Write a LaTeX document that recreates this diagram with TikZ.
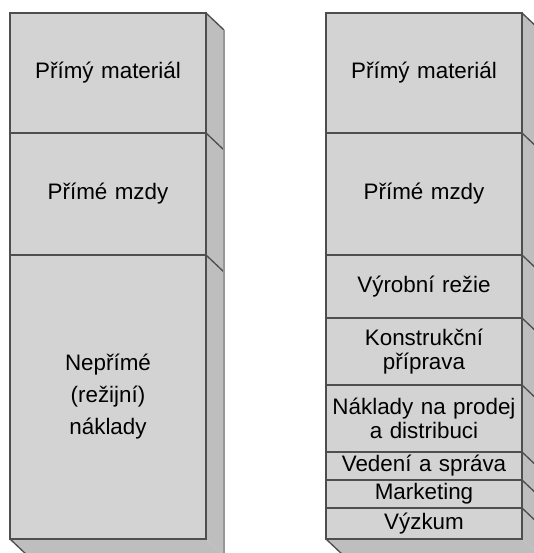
\documentclass[tikz,border=0pt]{standalone}
\usepackage{fontspec}
\setmainfont{Liberation Sans}
\usetikzlibrary{positioning}
\definecolor{FrontGray}{RGB}{211, 211, 211}
\definecolor{SideGray}{RGB}{190, 190, 190}
\definecolor{EdgeGray}{RGB}{78, 78, 78}
\definecolor{RimGray}{RGB}{150, 150, 150}

\begin{document}
\begin{tikzpicture}[
		x=0.75pt, y=-0.75pt,
		node distance=0pt,
		base/.style={
			rectangle, draw=EdgeGray, fill=FrontGray, line width=1pt,
			outer sep=0pt, inner sep=0pt, text width=147pt,
			align=center, font=\fontsize{16.8}{18}\selectfont
		},
		costbox/.style={base, minimum height=#1},
		side/.style={fill=SideGray},
		edge/.style={draw=EdgeGray, line width=1pt},
		rim/.style={draw=RimGray, line width=0.8pt}
		]
		
		\useasboundingbox (0,0) rectangle (534,553);
		
		% left column
		\node[costbox=90pt, anchor=north west] (l1) at (10,13) {Přímý materiál};
		\node[costbox=91.5pt] (l2) [below=of l1] {Přímé mzdy};
		\node[costbox=213pt, font=\fontsize{16.8}{24}\selectfont] (l3) [below=of l2] {Nepřímé \\ (režijní) \\ náklady};
		
		% right column
		\node[costbox=90pt, anchor=north west] (r1) at (326,13) {Přímý materiál};
		\node[costbox=91.5pt] (r2) [below=of r1] {Přímé mzdy};
		\node[costbox=47.25pt] (r3) [below=of r2] {Výrobní režie};
		\node[costbox=50.25pt] (r4) [below=of r3] {Konstrukční \\ příprava};
		\node[costbox=50.25pt] (r5) [below=of r4] {Náklady na prodej \\ a distribuci};
		\node[costbox=21pt] (r6) [below=of r5] {Vedení a správa};
		\node[costbox=21pt] (r7) [below=of r6] {Marketing};
		\node[costbox=23.25pt] (r8) [below=of r7] {Výzkum};
		
		% side faces
		\foreach \n in {l1,l2,l3,r1,r2,r3,r4,r5,r6,r7,r8} {
			\fill[side] (\n.north east) -- ++(18,17) -- ([shift={(18,17)}]\n.south east) -- (\n.south east) -- cycle;
			\draw[edge] (\n.north east) -- ++(18,17);
		}
		
		% bottom faces
		\foreach \n in {l3,r8} {
			\fill[side] (\n.south west) -- ++(18,17) -- ([shift={(18,17)}]\n.south east) -- (\n.south east) -- cycle;
			\draw[edge] (\n.south west) -- ++(18,17);
		}
		
		\draw[rim] ([shift={(18,17)}]l1.north east) -- ([shift={(18,17)}]l3.south east);
		\draw[rim] ([shift={(18,17)}]r1.north east) -- ([shift={(18,17)}]r8.south east);
		\draw[edge] (l1.north east) -- (l3.south east) -- (l3.south west);
		\draw[edge] (r1.north east) -- (r8.south east) -- (r8.south west);
	\end{tikzpicture}
\end{document}
